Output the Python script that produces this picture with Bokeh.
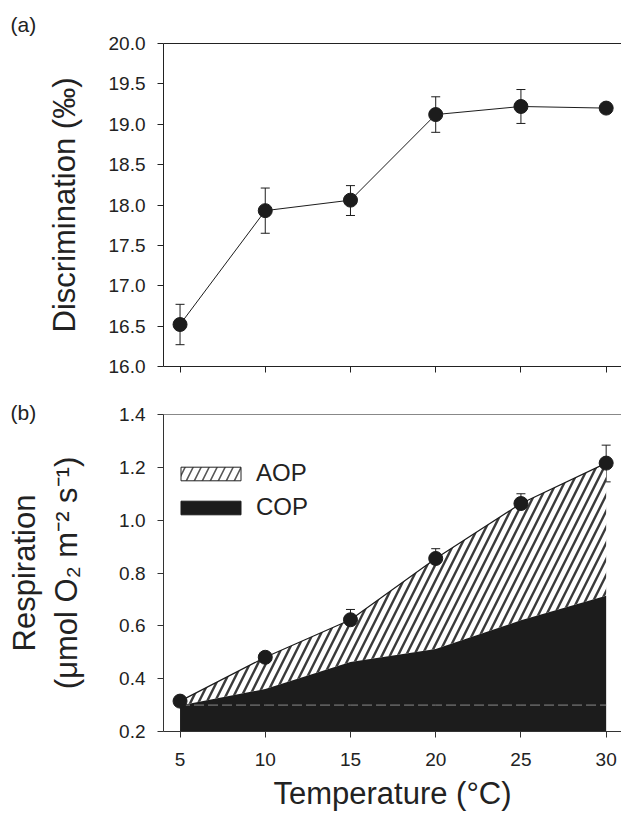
from bokeh.plotting import figure
from bokeh.layouts import column
from bokeh.models import (ColumnDataSource, Whisker, TeeHead, Range1d, FixedTicker,
                          PrintfTickFormatter, LinearAxis, Legend, LegendItem, Title)
from bokeh.embed import file_html
from bokeh.resources import INLINE

# ---------------- data ----------------
temps = [5, 10, 15, 20, 25, 30]

disc = [16.52, 17.93, 18.06, 19.12, 19.22, 19.20]
disc_lo = [16.27, 17.65, 17.87, 18.90, 19.01, 19.20]
disc_hi = [16.77, 18.21, 18.24, 19.34, 19.43, 19.20]

resp_total = [0.315, 0.481, 0.623, 0.855, 1.063, 1.216]
resp_lo = [0.315, 0.481, 0.588, 0.822, 1.026, 1.145]
resp_hi = [0.315, 0.481, 0.662, 0.892, 1.100, 1.284]
cop = [0.298, 0.361, 0.463, 0.512, 0.621, 0.714]
cop_base = [0.30, 0.30, 0.30, 0.30, 0.30, 0.30]

x_ticks = [5, 10, 15, 20, 25, 30]
disc_ticks = [16.0, 16.5, 17.0, 17.5, 18.0, 18.5, 19.0, 19.5, 20.0]
resp_ticks = [0.2, 0.4, 0.6, 0.8, 1.0, 1.2, 1.4]

FONT = "Liberation Sans"
INK = "#1c1c1c"
W = 621
X0, X1 = 4.03, 30.9


def style_axes(p, axis_col):
    for ax in p.axis:
        ax.axis_line_color = axis_col
        ax.major_tick_line_color = axis_col
        ax.minor_tick_line_color = None
        ax.major_tick_in = 0
        ax.major_tick_out = 6
        ax.major_label_text_font = FONT
        ax.major_label_text_font_size = "19px"
        ax.major_label_text_color = "#222222"
        ax.axis_label_text_font = FONT
        ax.axis_label_text_font_size = "31px"
        ax.axis_label_text_font_style = "normal"
        ax.axis_label_text_color = "#222222"
    p.xgrid.visible = False
    p.ygrid.visible = False
    p.outline_line_color = None


def top_border(color):
    return LinearAxis(axis_line_color=color, major_tick_line_color=None,
                      minor_tick_line_color=None, major_label_text_color=None,
                      ticker=FixedTicker(ticks=[]))


def panel_tag(text, standoff):
    return Title(text=text, align="left", offset=-153, standoff=standoff,
                 text_font=FONT, text_font_size="21px", text_font_style="normal",
                 text_color="#222222")


# ---------------- panel (a) ----------------
p1 = figure(width=W, height=385, output_backend="svg", toolbar_location=None,
            x_range=Range1d(X0, X1), y_range=Range1d(16, 20),
            min_border_left=163, min_border_right=0, min_border_top=43,
            min_border_bottom=19, title=None)
style_axes(p1, "#222222")
p1.xaxis.ticker = FixedTicker(ticks=x_ticks)
p1.xaxis.major_label_text_color = None
p1.yaxis.ticker = FixedTicker(ticks=disc_ticks)
p1.yaxis.formatter = PrintfTickFormatter(format="%.1f")
p1.yaxis.major_label_standoff = 12
p1.yaxis.axis_label = "Discrimination (‰)"
p1.yaxis.axis_label_standoff = 24
p1.above = [top_border("#222222"), panel_tag("(a)", 15)]

src1 = ColumnDataSource(dict(x=temps, y=disc, lo=disc_lo, hi=disc_hi))
p1.add_layout(Whisker(base="x", upper="hi", lower="lo", source=src1,
                      line_color=INK, line_width=1,
                      upper_head=TeeHead(size=9, line_color=INK, line_width=1),
                      lower_head=TeeHead(size=9, line_color=INK, line_width=1)))
p1.line("x", "y", source=src1, line_color=INK, line_width=1)
p1.scatter("x", "y", source=src1, size=14, fill_color=INK, line_color=INK)

# ---------------- panel (b) ----------------
p2 = figure(width=W, height=428, output_backend="svg", toolbar_location=None,
            x_range=Range1d(X0, X1), y_range=Range1d(0.2, 1.4),
            min_border_left=163, min_border_right=0, min_border_top=29,
            min_border_bottom=76, title=None)
style_axes(p2, "#333333")
p2.xaxis.ticker = FixedTicker(ticks=x_ticks)
p2.xaxis.major_label_standoff = 15
p2.xaxis.axis_label = "Temperature (°C)"
p2.xaxis.axis_label_standoff = 7
p2.yaxis.ticker = FixedTicker(ticks=resp_ticks)
p2.yaxis.formatter = PrintfTickFormatter(format="%.1f")
p2.yaxis.major_label_standoff = 12
p2.yaxis.axis_label = "Respiration\n(μmol O₂ m⁻² s⁻¹)"
p2.yaxis.axis_label_standoff = 32
p2.yaxis.axis_label_text_line_height = 1.2
p2.above = [top_border("#888888"), panel_tag("(b)", -19)]

ybot = p2.y_range.start
src2 = ColumnDataSource(dict(x=temps, y=resp_total, lo=resp_lo, hi=resp_hi, cop=cop,
                             base=[ybot] * len(temps), dash=cop_base))
p2.varea(x="x", y1="cop", y2="y", source=src2, fill_color="white",
         hatch_pattern="/", hatch_color="#3a3a3a", hatch_scale=16, hatch_weight=2.4)
p2.varea(x="x", y1="base", y2="cop", source=src2, fill_color=INK)
p2.line("x", "dash", source=src2, line_color="#8a8a8a", line_width=1, line_dash="10 4")
p2.add_layout(Whisker(base="x", upper="hi", lower="lo", source=src2,
                      line_color=INK, line_width=1,
                      upper_head=TeeHead(size=9, line_color=INK, line_width=1),
                      lower_head=TeeHead(size=9, line_color=INK, line_width=1)))
p2.line("x", "y", source=src2, line_color=INK, line_width=1.2)
p2.scatter("x", "y", source=src2, size=14, fill_color=INK, line_color=INK)

nan = float("nan")
ghost = ColumnDataSource(dict(left=[nan], right=[nan], top=[nan], bottom=[nan]))
leg_aop = p2.quad(left="left", right="right", top="top", bottom="bottom", source=ghost,
                  fill_color="white", line_color="#222222", line_width=1,
                  hatch_pattern="/", hatch_color="#555555", hatch_scale=16, hatch_weight=1.6)
leg_cop = p2.quad(left="left", right="right", top="top", bottom="bottom", source=ghost,
                  fill_color=INK, line_color=INK)
legend = Legend(items=[LegendItem(label="AOP", renderers=[leg_aop]),
                       LegendItem(label="COP", renderers=[leg_cop])],
                location=(10, 210), padding=0, margin=0, spacing=6,
                glyph_width=75, glyph_height=17, label_standoff=8,
                label_text_font=FONT, label_text_font_size="24px",
                label_text_color="#222222", border_line_color=None,
                background_fill_alpha=0)
p2.add_layout(legend, "center")

layout = column(p1, p2, spacing=0)
open("out.html", "w").write(file_html(layout, INLINE))
